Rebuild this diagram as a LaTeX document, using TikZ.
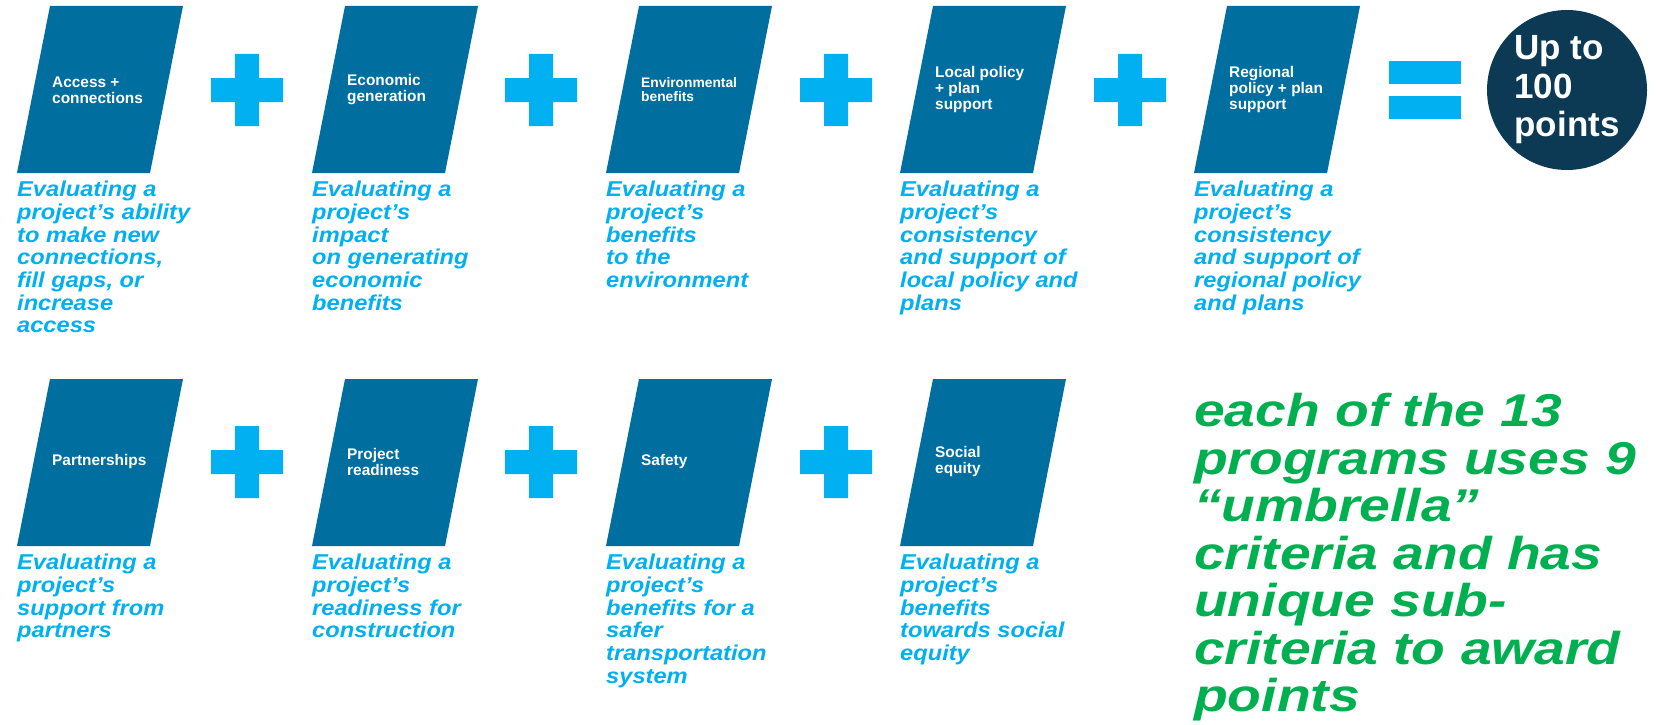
\documentclass[tikz,border=0pt]{standalone}
\usepackage{fontspec}
\setmainfont{Liberation Sans}
\newfontfamily\descfont[FakeStretch=1.1]{Liberation Sans}
\newfontfamily\notefont[FakeStretch=1.2]{Liberation Sans}
\usepackage{tikz}

\definecolor{boxblue}{RGB}{0,111,160}
\definecolor{signblue}{RGB}{0,176,240}
\definecolor{totalnavy}{RGB}{12,58,84}
\definecolor{notegreen}{RGB}{0,176,80}

\begin{document}
\begin{tikzpicture}[x=1pt,y=-1pt,
  crit/.style={fill=boxblue},
  critname/.style={anchor=west,align=left,inner sep=0pt,text=white,font=\fontsize{15.4}{16}\selectfont\bfseries},
  critdesc/.style={anchor=north west,align=left,inner sep=0pt,text=signblue,font=\descfont\fontsize{21.5}{22.7}\selectfont\bfseries\itshape},
  sign/.style={fill=signblue}]

\useasboundingbox (0,0) rectangle (1656,725);

\fill[crit] (50,6)--(183,6)--(150,173)--(17,173)--cycle;
\fill[crit] (345,6)--(478,6)--(445,173)--(312,173)--cycle;
\fill[crit] (639,6)--(772,6)--(739,173)--(606,173)--cycle;
\fill[crit] (933,6)--(1066,6)--(1033,173)--(900,173)--cycle;
\fill[crit] (1227,6)--(1360,6)--(1327,173)--(1194,173)--cycle;

\fill[crit] (50,379)--(183,379)--(150,546)--(17,546)--cycle;
\fill[crit] (345,379)--(478,379)--(445,546)--(312,546)--cycle;
\fill[crit] (639,379)--(772,379)--(739,546)--(606,546)--cycle;
\fill[crit] (933,379)--(1066,379)--(1033,546)--(900,546)--cycle;

\fill[sign] (235,54) rectangle (259,126) (211,78) rectangle (283,102);
\fill[sign] (529,54) rectangle (553,126) (505,78) rectangle (577,102);
\fill[sign] (824,54) rectangle (848,126) (800,78) rectangle (872,102);
\fill[sign] (1118,54) rectangle (1142,126) (1094,78) rectangle (1166,102);

\fill[sign] (235,426) rectangle (259,498) (211,450) rectangle (283,474);
\fill[sign] (529,426) rectangle (553,498) (505,450) rectangle (577,474);
\fill[sign] (824,426) rectangle (848,498) (800,450) rectangle (872,474);

\fill[sign] (1389,61) rectangle (1461,84);
\fill[sign] (1389,96) rectangle (1461,119);

\node [critname] (access) at (52,90) {Access +\\connections};
\node [critname] (economy) at (347,90) {Economic\\generation};
\node [critname,font=\fontsize{13.8}{14}\selectfont\bfseries] (environment) at (641,90) {Environmental\\benefits};
\node [critname] (local) at (935,90) {Local policy\\+ plan\\support};
\node [critname] (regional) at (1229,90) {Regional\\policy + plan\\support};

\node [critname] (partners) at (52,462) {Partnerships};
\node [critname] (readiness) at (347,462) {Project\\readiness};
\node [critname] (safety) at (641,462) {Safety};
\node [critname] (equity) at (935,462) {Social\\equity};

\node [critdesc] (access-txt) at (17,181) {Evaluating a\\project’s ability\\to make new\\connections,\\fill gaps, or\\increase\\access};
\node [critdesc] (economy-txt) at (312,181) {Evaluating a\\project’s\\impact\\on generating\\economic\\benefits};
\node [critdesc] (environment-txt) at (606,181) {Evaluating a\\project’s\\benefits\\to the\\environment};
\node [critdesc] (local-txt) at (900,181) {Evaluating a\\project’s\\consistency\\and support of\\local policy and\\plans};
\node [critdesc] (regional-txt) at (1194,181) {Evaluating a\\project’s\\consistency\\and support of\\regional policy\\and plans};

\node [critdesc] (partners-txt) at (17,554) {Evaluating a\\project’s\\support from\\partners};
\node [critdesc] (readiness-txt) at (312,554) {Evaluating a\\project’s\\readiness for\\construction};
\node [critdesc] (safety-txt) at (606,554) {Evaluating a\\project’s\\benefits for a\\safer\\transportation\\system};
\node [critdesc] (equity-txt) at (900,554) {Evaluating a\\project’s\\benefits\\towards social\\equity};

\node [circle,fill=totalnavy,minimum size=160pt,inner sep=0pt,text=white,align=left,
  font=\fontsize{35}{38.5}\selectfont\bfseries] (total) at (1567,90) {Up to\\100\\points};

\node [anchor=north west,align=left,inner sep=0pt,text=notegreen,
  font=\notefont\fontsize{46}{47.5}\selectfont\bfseries\itshape] (note) at (1194,393)
  {each of the 13\\programs uses 9\\“umbrella”\\criteria and has\\unique sub-\\criteria to award\\points};
\end{tikzpicture}
\end{document}
